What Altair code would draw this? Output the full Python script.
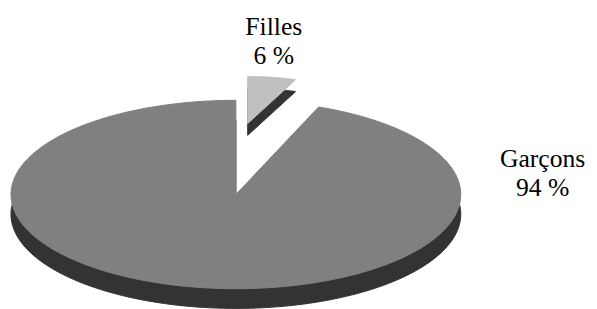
import altair as alt
import pandas as pd

# ---- data ----
categories = ["Filles", "Garçons"]
values = [6, 94]

src = pd.DataFrame({"category": categories, "value": values})

# ---- layout constants (pixel space of the page) ----
W, H = 589, 301
xs = alt.Scale(domain=[8, 8 + W])
ys = alt.Scale(domain=[8, 8 + H], reverse=True)

N = 200  # arc sampling

# main pie (ellipse in 3D view)
MAIN = dict(cx=239, cy=195, rx=228, ry=95.5, depth=20)
# exploded slice (pulled back, drawn smaller by perspective)
EXPL = dict(cx=251, cy=123, rx=132, ry=47.75, depth=12)

TOP_MAIN = "#808080"
TOP_EXPL = "#c0c0c0"
SIDE = "#333333"

LABEL_POS = {"Filles": (277.5, 33), "Garçons": (550, 167)}
FONT = "Times New Roman"


def slice_layer(cat, g, shift, color):
    cx, cy, rx, ry = g["cx"], g["cy"], g["rx"], g["ry"]
    return (
        alt.Chart(src)
        .transform_joinaggregate(total="sum(value)")
        .transform_window(cum="sum(value)")
        .transform_filter(alt.datum.category == cat)
        .transform_calculate(
            a0="2*PI*(datum.cum-datum.value)/datum.total",
            a1="2*PI*datum.cum/datum.total",
            k=f"sequence(0, {N + 2})",
        )
        .transform_flatten(["k"])
        .transform_calculate(
            t=f"datum.a0 + (datum.a1-datum.a0)*clamp(datum.k-1,0,{N - 1})/{N - 1}",
            onarc=f"datum.k>=1 && datum.k<={N}",
        )
        .transform_calculate(
            px=f"datum.onarc ? {cx}+{rx}*sin(datum.t) : {cx}",
            py=f"(datum.onarc ? {cy}-{ry}*cos(datum.t) : {cy}) + {shift}",
        )
        .mark_line(fill=color, stroke=color, strokeWidth=1, interpolate="linear")
        .encode(
            x=alt.X("px:Q", scale=xs, axis=None),
            y=alt.Y("py:Q", scale=ys, axis=None),
            order="k:Q",
        )
    )


lx = "datum.category === 'Filles' ? {} : {}".format(LABEL_POS["Filles"][0], LABEL_POS["Garçons"][0])
ly = "datum.category === 'Filles' ? {} : {}".format(LABEL_POS["Filles"][1], LABEL_POS["Garçons"][1])

labels = (
    alt.Chart(src)
    .transform_calculate(
        label="datum.category + '\\n' + datum.value + ' %'",
        lx=lx,
        ly=ly,
    )
    .mark_text(
        font=FONT,
        fontSize=26,
        fontWeight="normal",
        lineHeight=30,
        lineBreak="\n",
        align="center",
        baseline="alphabetic",
        color="black",
    )
    .encode(
        x=alt.X("lx:Q", scale=xs, axis=None),
        y=alt.Y("ly:Q", scale=ys, axis=None),
        text="label:N",
    )
)

chart = (
    alt.layer(
        slice_layer("Garçons", MAIN, MAIN["depth"], SIDE),
        slice_layer("Garçons", MAIN, 0, TOP_MAIN),
        slice_layer("Filles", EXPL, EXPL["depth"], SIDE),
        slice_layer("Filles", EXPL, 0, TOP_EXPL),
        labels,
    )
    .properties(width=W, height=H, padding=0, autosize="none")
    .configure(font=FONT)
    .configure_view(stroke=None)
)

chart.save("out.html", embed_options={"renderer": "svg", "actions": False})
